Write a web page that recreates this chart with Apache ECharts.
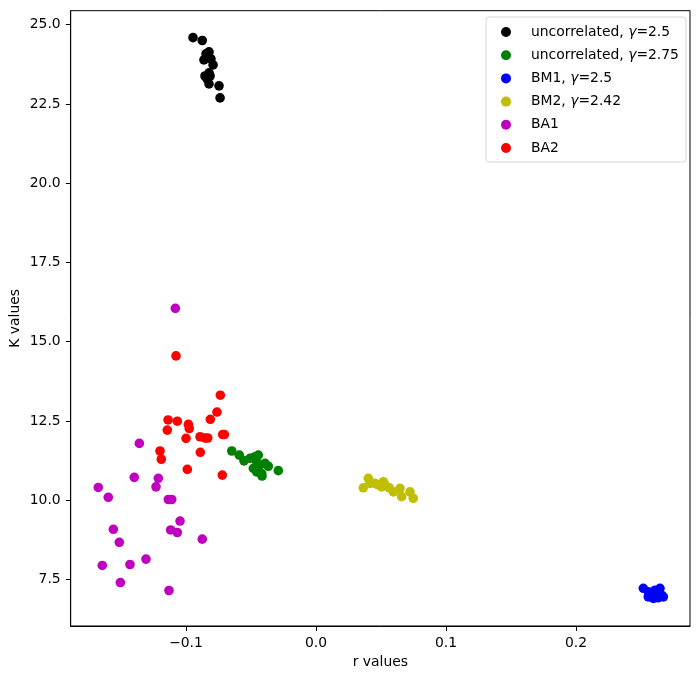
<!DOCTYPE html>
<html>
<head>
<meta charset="utf-8">
<script src="https://cdn.jsdelivr.net/npm/echarts@6/dist/echarts.min.js"></script>
<style>
  html, body { margin: 0; padding: 0; background: #fff; }
  #chart { width: 700px; height: 679px; }
</style>
</head>
<body>
<div id="chart"></div>
<script>
"use strict";

// r / K values, one pair of arrays per network model
const uncorr25R = [-0.0946, -0.0875, -0.0846, -0.0823, -0.0838, -0.0808, -0.0862, -0.0792,
  -0.0823, -0.0854, -0.0815, -0.0838, -0.0823, -0.0746, -0.0738];
const uncorr25K = [24.59, 24.50, 24.08, 24.14, 23.95, 23.92, 23.89, 23.73,
  23.48, 23.38, 23.38, 23.29, 23.13, 23.07, 22.69];

const uncorr275R = [-0.0648, -0.0590, -0.0554, -0.0508, -0.0469, -0.0444, -0.0456, -0.0431,
  -0.0392, -0.0367, -0.0290, -0.0456, -0.0418, -0.0482, -0.0415];
const uncorr275K = [11.55, 11.42, 11.24, 11.32, 11.37, 11.42, 11.21, 11.11,
  11.16, 11.07, 10.93, 10.89, 10.84, 11.00, 10.76];

const bm1R = [0.2518, 0.2556, 0.2608, 0.2646, 0.2659, 0.2556, 0.2595, 0.2672, 0.2580, 0.2630];
const bm1K = [7.22, 7.11, 7.16, 7.22, 7.00, 6.95, 6.90, 6.95, 7.05, 6.92];

const bm2R = [0.0364, 0.0402, 0.0415, 0.0454, 0.0479, 0.0518, 0.0531, 0.0564,
  0.0595, 0.0646, 0.0659, 0.0723, 0.0748, 0.0505];
const bm2K = [10.39, 10.69, 10.53, 10.53, 10.48, 10.58, 10.48, 10.39,
  10.26, 10.37, 10.11, 10.26, 10.06, 10.42];

const ba1R = [-0.1082, -0.1359, -0.1398, -0.1213, -0.1231, -0.1675, -0.1598, -0.1136,
  -0.1110, -0.1046, -0.1118, -0.1067, -0.0875, -0.1559, -0.1513, -0.1644,
  -0.1431, -0.1308, -0.1505, -0.1131];
const ba1K = [16.05, 11.79, 10.72, 10.69, 10.42, 10.40, 10.09, 10.02,
  10.02, 9.34, 9.06, 8.98, 8.77, 9.08, 8.67, 7.94,
  7.97, 8.14, 7.40, 7.15];

const ba2R = [-0.1077, -0.0736, -0.0762, -0.0813, -0.1138, -0.1067, -0.1144, -0.0982,
  -0.0975, -0.1000, -0.0892, -0.0854, -0.0833, -0.0718, -0.0705, -0.1200,
  -0.1190, -0.0890, -0.0990, -0.0721];
const ba2K = [14.55, 13.31, 12.78, 12.55, 12.53, 12.49, 12.21, 12.39,
  12.26, 11.95, 12.00, 11.96, 11.96, 12.07, 12.07, 11.55,
  11.29, 11.51, 10.97, 10.79];

const seriesNames = ["uncorrelated, γ=2.5", "uncorrelated, γ=2.75", "BM1, γ=2.5",
  "BM2, γ=2.42", "BA1", "BA2"];
const seriesColors = ["#000000", "#008000", "#0000ff", "#bfbf00", "#bf00bf", "#ff0000"];

const xTicks = [-0.1, 0.0, 0.1, 0.2];
const yTicks = [7.5, 10.0, 12.5, 15.0, 17.5, 20.0, 22.5, 25.0];

const FONT = "DejaVu Sans";
const FS = 13.9;

function zip(xs, ys) {
  return xs.map((x, i) => [x, ys[i]]);
}

const allData = [
  zip(uncorr25R, uncorr25K),
  zip(uncorr275R, uncorr275K),
  zip(bm1R, bm1K),
  zip(bm2R, bm2K),
  zip(ba1R, ba1K),
  zip(ba2R, ba2K),
];

const chart = echarts.init(document.getElementById("chart"), null, { renderer: "canvas" });

const axisCommon = {
  type: "value",
  axisLine: { show: true, onZero: false, lineStyle: { color: "#000", width: 1 } },
  axisTick: { show: true, inside: false, length: 4.9, lineStyle: { color: "#000", width: 1 } },
  splitLine: { show: false },
  nameMoveOverlap: false,
  nameTextStyle: { fontFamily: FONT, fontSize: FS, color: "#000" },
};

chart.setOption({
  animation: false,
  backgroundColor: "#fff",
  grid: {
    left: 70.7, right: 10, top: 10.7, bottom: 53,
    containLabel: false, outerBoundsMode: "none",
    show: true, borderColor: "#000", borderWidth: 1, backgroundColor: "transparent",
  },
  xAxis: Object.assign({}, axisCommon, {
    min: -0.1887, max: 0.2877,
    name: "r values", nameLocation: "middle", nameGap: 29,
    axisTick: Object.assign({}, axisCommon.axisTick, { customValues: xTicks }),
    axisLabel: {
      customValues: xTicks, margin: 10,
      fontFamily: FONT, fontSize: FS, color: "#000",
      formatter: (v) => (v < 0 ? "\u2212" + Math.abs(v).toFixed(1) : v.toFixed(1)),
    },
  }),
  yAxis: Object.assign({}, axisCommon, {
    min: 6.03, max: 25.44,
    name: "K values", nameLocation: "middle", nameGap: 48,
    axisTick: Object.assign({}, axisCommon.axisTick, { customValues: yTicks }),
    axisLabel: {
      customValues: yTicks, margin: 10,
      fontFamily: FONT, fontSize: FS, color: "#000",
      formatter: (v) => v.toFixed(1),
    },
  }),
  legend: {
    orient: "vertical",
    left: 486, top: 17,
    padding: [8, 7, 7, 15],
    itemWidth: 10, itemHeight: 10, itemGap: 9.2,
    icon: "circle",
    backgroundColor: "#fff",
    borderColor: "#d6d6d6", borderWidth: 1, borderRadius: 3,
    data: seriesNames,
    formatter: (name) => name.replace("γ", "{g|γ}"),
    textStyle: {
      fontFamily: FONT, fontSize: FS, color: "#000", lineHeight: 14,
      padding: [0, 0, 0, 15],
      rich: {
        g: { fontFamily: FONT, fontSize: FS, fontStyle: "italic", color: "#000" },
      },
    },
  },
  series: allData.map((d, i) => ({
    name: seriesNames[i],
    type: "scatter",
    data: d,
    symbol: "circle",
    symbolSize: 9.6,
    itemStyle: { color: seriesColors[i], opacity: 1 },
    emphasis: { disabled: true },
  })),
});
</script>
</body>
</html>
